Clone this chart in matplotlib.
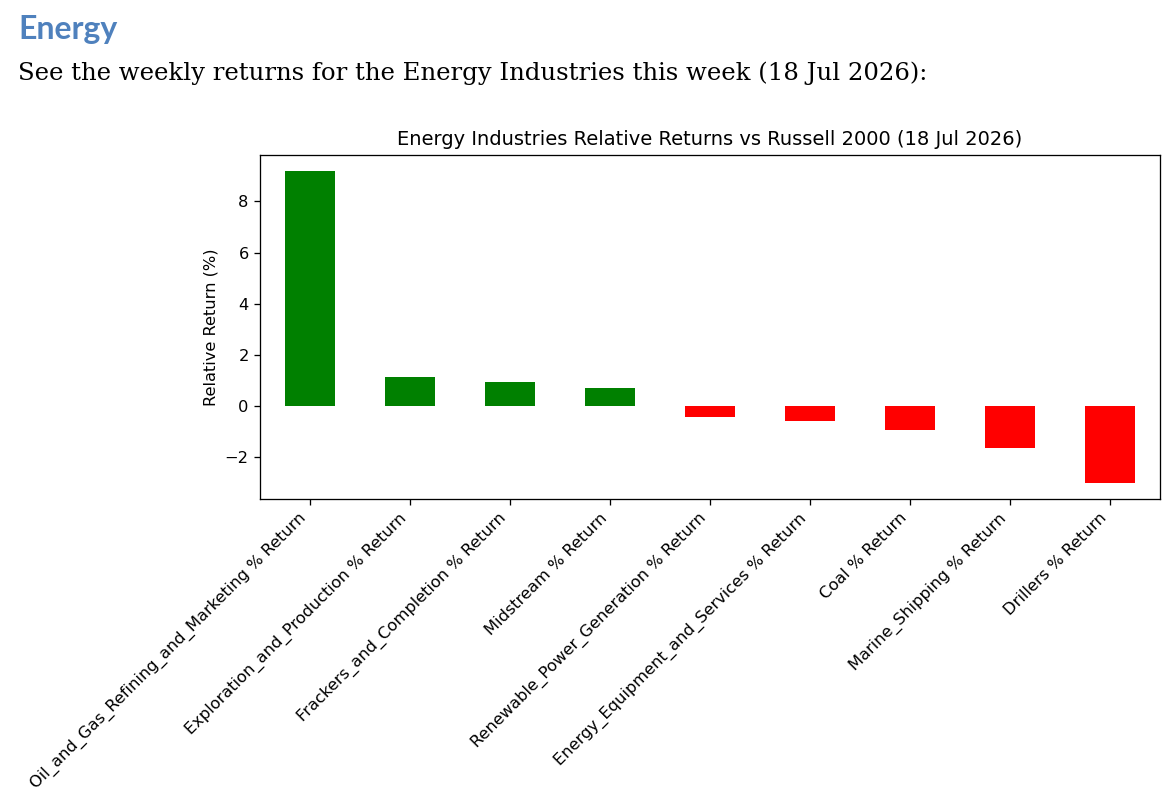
import matplotlib
matplotlib.use('Agg')
import matplotlib.pyplot as plt

industries = ['Oil_and_Gas_Refining_and_Marketing', 'Exploration_and_Production',
              'Frackers_and_Completion', 'Midstream', 'Renewable_Power_Generation',
              'Energy_Equipment_and_Services', 'Coal', 'Marine_Shipping', 'Drillers']
returns = [9.2, 1.12, 0.96, 0.69, -0.44, -0.58, -0.94, -1.65, -3.02]
labels = [s + ' % Return' for s in industries]

# the chart in the reference is a scaled-up matplotlib png
k = 1.17

fig = plt.figure(figsize=(11.72, 8.06), dpi=100)

# document header above the chart
fig.text(18/1172, 1 - 39/806, 'Energy', fontsize=23, fontweight='bold',
         family='Lato', color='#4f81bd', va='baseline')
fig.text(18/1172, 1 - 80/806,
         'See the weekly returns for the Energy Industries this week (18 Jul 2026):',
         fontsize=17.6, family='DejaVu Serif', color='black', va='baseline')

ax = fig.add_axes([260/1172, 1 - 499/806, 900/1172, 344/806])
colors = ['green' if v > 0 else 'red' for v in returns]
x = range(len(returns))
ax.bar(x, returns, width=0.5, color=colors)
ax.set_xlim(-0.5, len(returns) - 0.5)
ax.set_xticks(list(x))
ax.set_xticklabels(labels, rotation=45, ha='right', fontsize=10*k)
ax.tick_params(axis='both', labelsize=10*k, length=3.5*k, width=0.8*k, pad=3.5*k)
for sp in ax.spines.values():
    sp.set_linewidth(0.8*k)
ax.set_ylabel('Relative Return (%)', fontsize=10*k, labelpad=4*k)
ax.set_title('Energy Industries Relative Returns vs Russell 2000 (18 Jul 2026)',
             fontsize=12*k, pad=6*k)

fig.savefig('out.png', dpi=100)
